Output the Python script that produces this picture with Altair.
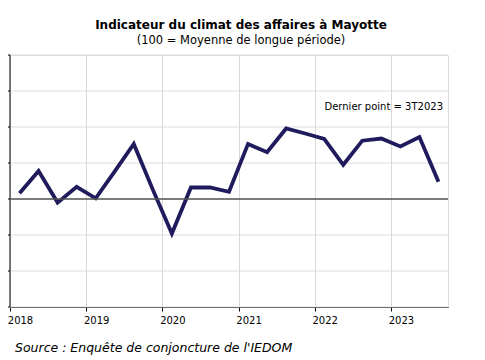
import altair as alt
import pandas as pd

years = [2018]*4 + [2019]*4 + [2020]*4 + [2021]*4 + [2022]*4 + [2023]*3
quarters = [1, 2, 3, 4]*5 + [1, 2, 3]
values = [101.6, 107.8, 99.0, 103.4, 100.2, 107.7, 115.3, 102.6,
          90.4, 103.2, 103.2, 102.0, 115.3, 113.0, 119.6, 118.2,
          116.7, 109.5, 116.2, 116.8, 114.6, 117.2, 104.8]
year_ticks = [2018, 2019, 2020, 2021, 2022, 2023]
y_ticks = [70, 80, 90, 100, 110, 120, 130, 140]

df = pd.DataFrame({
    "t": [y + (q - 0.5) / 4 for y, q in zip(years, quarters)],
    "v": values,
})

FONT = "DejaVu Sans"

x_enc = alt.X("t:Q", scale=alt.Scale(domain=[2018, 2023.75], nice=False, zero=False),
              axis=alt.Axis(values=year_ticks, format="d", title=None, grid=True,
                            gridColor="#d9d9d9", domain=True, domainColor="#000000",
                            tickColor="#000000", tickSize=4, labelFont=FONT,
                            labelFontSize=10, labelColor="#000000", labelAlign="center",
                            labelOffset=10, labelPadding=4))
y_enc = alt.Y("v:Q", scale=alt.Scale(domain=[70, 140], nice=False, zero=False),
              axis=alt.Axis(values=y_ticks, labels=False, ticks=False, title=None,
                            grid=False, domain=False))

hgrid = alt.Chart(pd.DataFrame({"g": y_ticks})).mark_rule(
    color="#dcdcdc", strokeWidth=1).encode(y=alt.Y("g:Q", axis=None))

yticks = alt.Chart(pd.DataFrame({"g": y_ticks})).mark_rule(
    color="#000000", strokeWidth=1).encode(
    y=alt.Y("g:Q", axis=None), x=alt.value(-3), x2=alt.value(0))

ydomain = alt.Chart(pd.DataFrame({"a": [70], "b": [140]})).mark_rule(
    color="#000000", strokeWidth=1).encode(
    x=alt.value(0), y=alt.Y("a:Q", axis=None), y2="b:Q")

line = alt.Chart(df).mark_line(color="#1f1b5c", strokeWidth=3.8, strokeJoin="miter").encode(
    x=x_enc, y=y_enc)

ref = alt.Chart(pd.DataFrame({"y": [100]})).mark_rule(color="#555555", strokeWidth=1.5).encode(
    y=alt.Y("y:Q", axis=None))

note = alt.Chart(pd.DataFrame({"txt": ["Dernier point = 3T2023"]})).mark_text(
    align="right", baseline="middle", font=FONT, fontSize=10, color="#000000").encode(
    x=alt.value(433), y=alt.value(52), text="txt:N")

source = alt.Chart(pd.DataFrame({"txt": ["Source : Enquête de conjoncture de l'IEDOM"]})).mark_text(
    align="left", baseline="middle", font=FONT, fontSize=12.5, fontStyle="italic",
    color="#000000").encode(x=alt.value(5), y=alt.value(293), text="txt:N")

chart = alt.layer(hgrid, yticks, ydomain, line, ref, note, source).properties(
    width=438, height=252,
    autosize=alt.AutoSizeParams(type="none"),
    padding={"left": 2, "top": 47, "right": 29, "bottom": 51},
    title=alt.TitleParams(
        text="Indicateur du climat des affaires à Mayotte",
        subtitle="(100 = Moyenne de longue période)",
        anchor="middle", dx=12, font=FONT, fontSize=12, fontWeight="bold",
        color="#000000", subtitleFont=FONT, subtitleFontSize=11.5,
        subtitleColor="#000000", offset=7, subtitlePadding=3),
).configure_view(stroke=None).configure(background="white")

chart.save("out.html", embed_options={"renderer": "svg", "actions": False})
